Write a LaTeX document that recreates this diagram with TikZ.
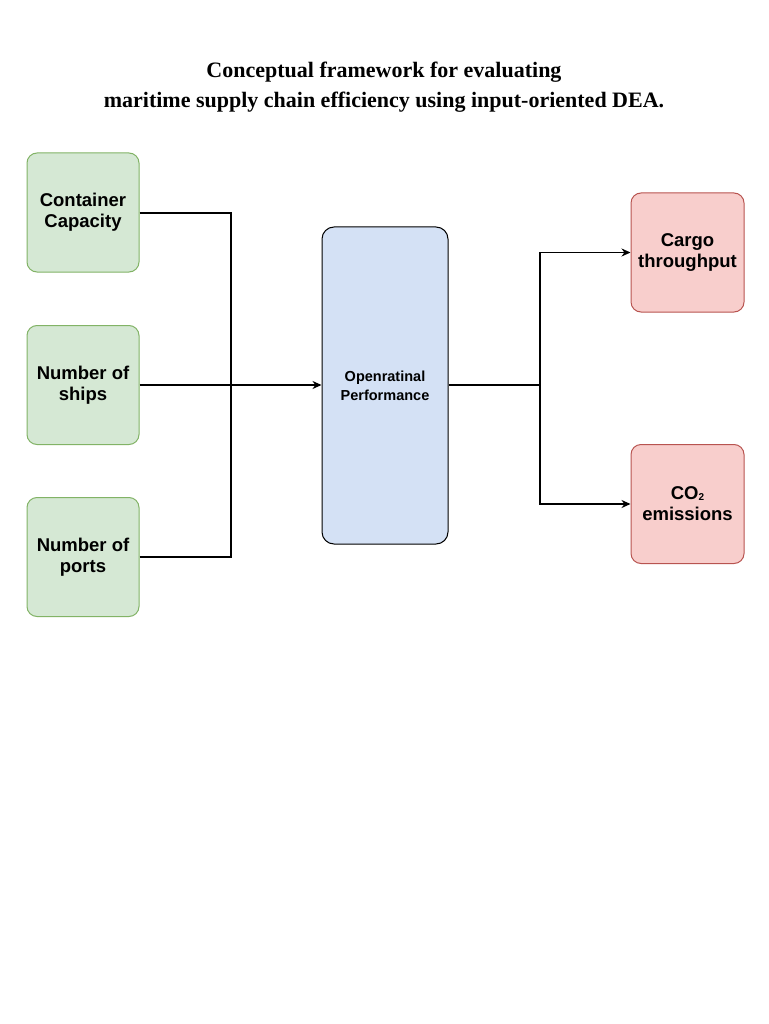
\documentclass[tikz,border=0pt]{standalone}
\usepackage{fontspec}
\setmainfont{Liberation Serif}
\setsansfont{Liberation Sans}
\usetikzlibrary{arrows.meta}
\definecolor{gfill}{HTML}{D5E8D4}\definecolor{gdraw}{HTML}{82B366}
\definecolor{bfill}{HTML}{D4E1F5}
\definecolor{rfill}{HTML}{F8CECC}\definecolor{rdraw}{HTML}{B85450}
\begin{document}
\begin{tikzpicture}[x=1pt,y=-1pt,
 inbox/.style={draw=gdraw, fill=gfill, rounded corners=10pt, minimum width=112pt, minimum height=119pt, align=center, font=\sffamily\bfseries\fontsize{18.5}{21}\selectfont, line width=1pt},
 outbox/.style={draw=rdraw, fill=rfill, rounded corners=10pt, minimum width=113pt, minimum height=119pt, align=center, font=\sffamily\bfseries\fontsize{18.5}{21}\selectfont, line width=1pt},
 conn/.style={line width=1.5pt},
 arr/.style={line width=1.5pt,-{Stealth[length=9pt,width=8pt]}}]
\useasboundingbox (0,0) rectangle (768,1024);
\fill[white] (0,0) rectangle (768,1024);
\node[font=\bfseries\fontsize{22}{30}\selectfont, align=center] (title) at (384,87) {Conceptual framework for evaluating\\maritime supply chain efficiency using input-oriented DEA.};
\node[inbox] (a) at (83,212.5) {Container\\Capacity};
\node[inbox] (b) at (83,385) {Number of\\ships};
\node[inbox] (c) at (83,557) {Number of\\ports};
\node[draw, fill=bfill, rounded corners=12pt, minimum width=126pt, minimum height=317pt, align=center, font=\sffamily\bfseries\fontsize{14.5}{19}\selectfont, line width=1pt] (m) at (385,385.5) {Openratinal\\Performance};
\node[outbox] (r1) at (687.5,252.5) {Cargo\\throughput};
\node[outbox] (r2) at (687.5,504) {CO{\fontsize{10}{10}\selectfont\raisebox{-1pt}{2}}\\emissions};
\coordinate (j) at (231,385);
\coordinate (k) at (540,385);
\draw[conn] (a.east |- 0,213) -| (j);
\draw[conn] (c.east |- 0,557) -| (j);
\draw[arr] (b.east) -- (m.west |- j);
\draw[conn] (m.east |- k) -- (k);
\draw[arr] (k) |- (r1.west);
\draw[arr] (k) |- (r2.west);
\end{tikzpicture}
\end{document}
